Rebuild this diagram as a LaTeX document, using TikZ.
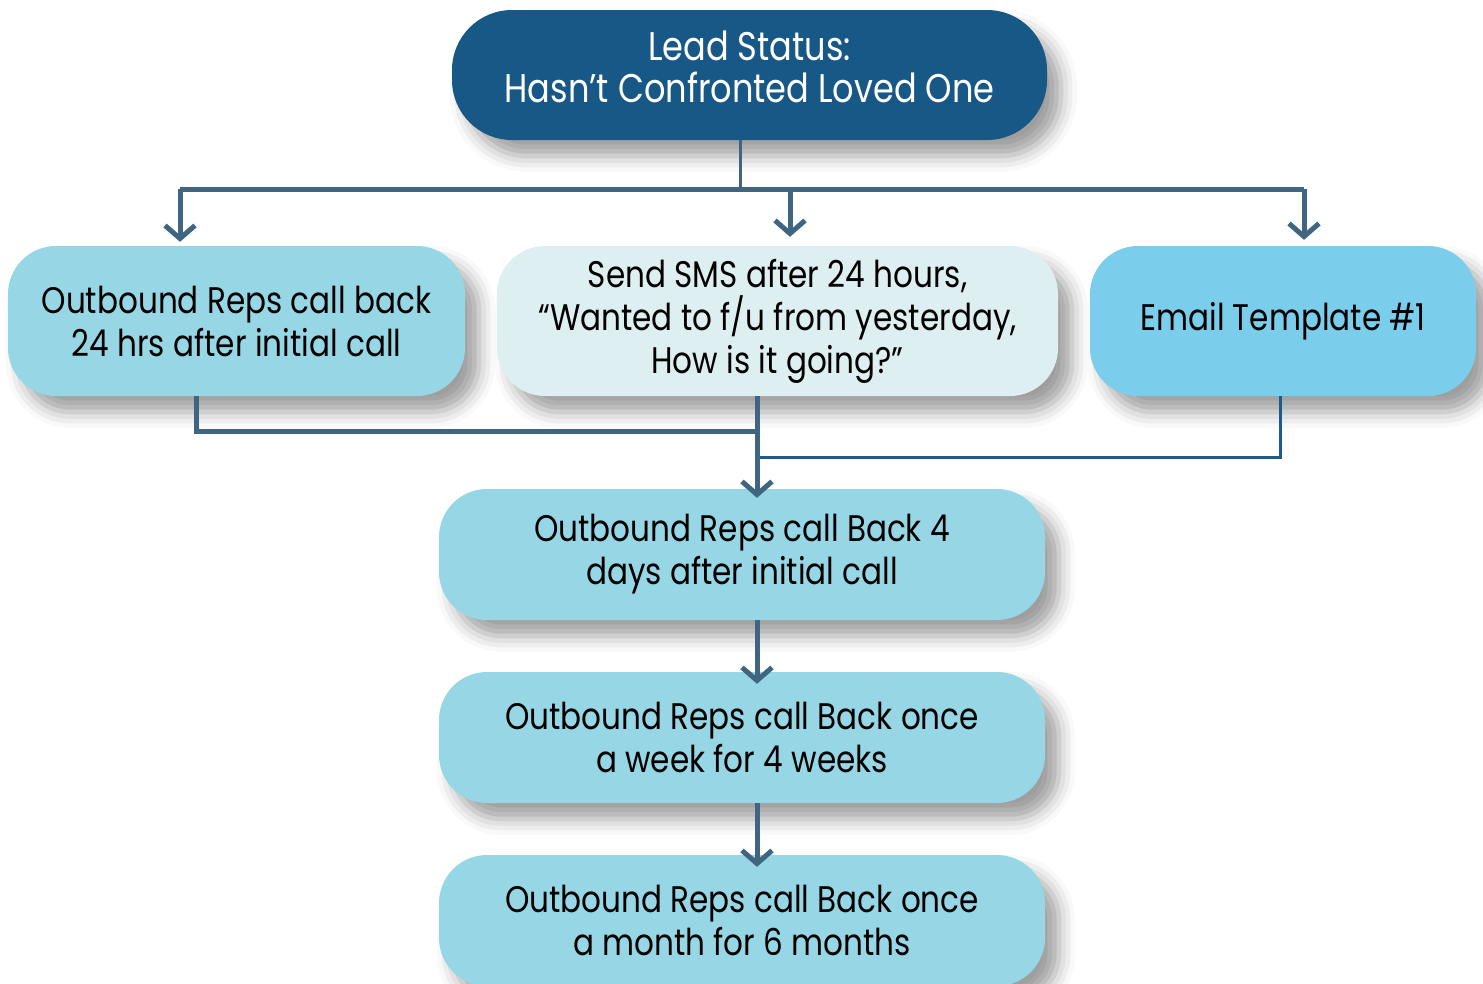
\documentclass[tikz,border=0pt]{standalone}
\usepackage{fontspec}
\setmainfont{Poppins}[FakeStretch=0.84]
\usetikzlibrary{arrows.meta,shadows.blur}
\definecolor{topblue}{HTML}{185886}
\definecolor{lightcyan}{HTML}{97D7E5}
\definecolor{paleteal}{HTML}{DDEFF0}
\definecolor{skyblue}{HTML}{7BCDEC}
\definecolor{connc}{HTML}{3F6580}
\definecolor{connd}{HTML}{1F5A8A}
\begin{document}
\begin{tikzpicture}[x=1pt,y=-1pt,
  box/.style={rounded corners=48pt, align=center, inner sep=0pt, text=black,
    font=\fontsize{37}{43}\selectfont,
    blur shadow={shadow xshift=14pt, shadow yshift=-16pt, shadow blur radius=16pt, shadow opacity=38}},
  conn/.style={draw=connc, line width=5pt},
  thinconn/.style={draw=connc, line width=3pt},
  thinblue/.style={draw=connd, line width=3pt},
  arr/.style={conn, -{Straight Barb[length=13pt,width=30pt]}}
]
\useasboundingbox (0,0) rectangle (1483,983);

% nodes
\node[box, fill=topblue, text=white, rounded corners=60pt, minimum width=595pt, minimum height=130pt,
  font=\fontsize{40}{42}\selectfont] (top) at (749.5,75) {Lead Status:\\Hasn’t Confronted Loved One\rule[-16pt]{0pt}{0pt}};
\node[box, fill=lightcyan, minimum width=457pt, minimum height=150pt] (b1) at (236.5,321)
  {Outbound Reps call back\\24 hrs after initial call};
\node[box, fill=paleteal, minimum width=561pt, minimum height=150pt] (b2) at (777.5,321)
  {Send SMS after 24 hours,\\“Wanted to f/u from yesterday,\\How is it going?”};
\node[box, fill=skyblue, minimum width=386pt, minimum height=150pt] (b3) at (1283,321)
  {Email Template \#1};
\node[box, fill=lightcyan, minimum width=606pt, minimum height=131pt] (r3) at (742,554.5)
  {Outbound Reps call Back 4\\days after initial call};
\node[box, fill=lightcyan, minimum width=606pt, minimum height=131pt] (r4) at (742,737.5)
  {Outbound Reps call Back once\\a week for 4 weeks};
\node[box, fill=lightcyan, minimum width=606pt, minimum height=131pt] (r5) at (742,920.5)
  {Outbound Reps call Back once\\a month for 6 months};

% junction coordinates
\coordinate (j1) at (740,189);
\coordinate (aL) at (180,189);
\coordinate (aM) at (790,189);
\coordinate (aR) at (1304,189);
\coordinate (m1) at (196,431);
\coordinate (m2) at (757,431);
\coordinate (e1) at (1280,457);
\coordinate (e2) at (757,457);

% top split
\draw[thinconn] (top.south -| j1) -- (j1);
\draw[conn] (aL) -- (aR);
\draw[arr, shorten >=4pt] (aL) -- (aL |- b1.north);
\draw[arr, shorten >=9pt] (aM) -- (aM |- b2.north);
\draw[arr, shorten >=6pt] (aR) -- (aR |- b3.north);

% merge
\draw[conn] (b1.south -| m1) -- (m1) -- (m2);
\draw[thinblue] (b3.south -| e1) -- (e1) -- (e2);
\draw[arr, shorten >=-9pt] (b2.south -| m2) -- (r3.north -| m2);

% chain
\draw[arr, shorten >=-12pt] (r3.south -| m2) -- (r4.north -| m2);
\draw[arr, shorten >=-12pt] (r4.south -| m2) -- (r5.north -| m2);
\end{tikzpicture}
\end{document}
